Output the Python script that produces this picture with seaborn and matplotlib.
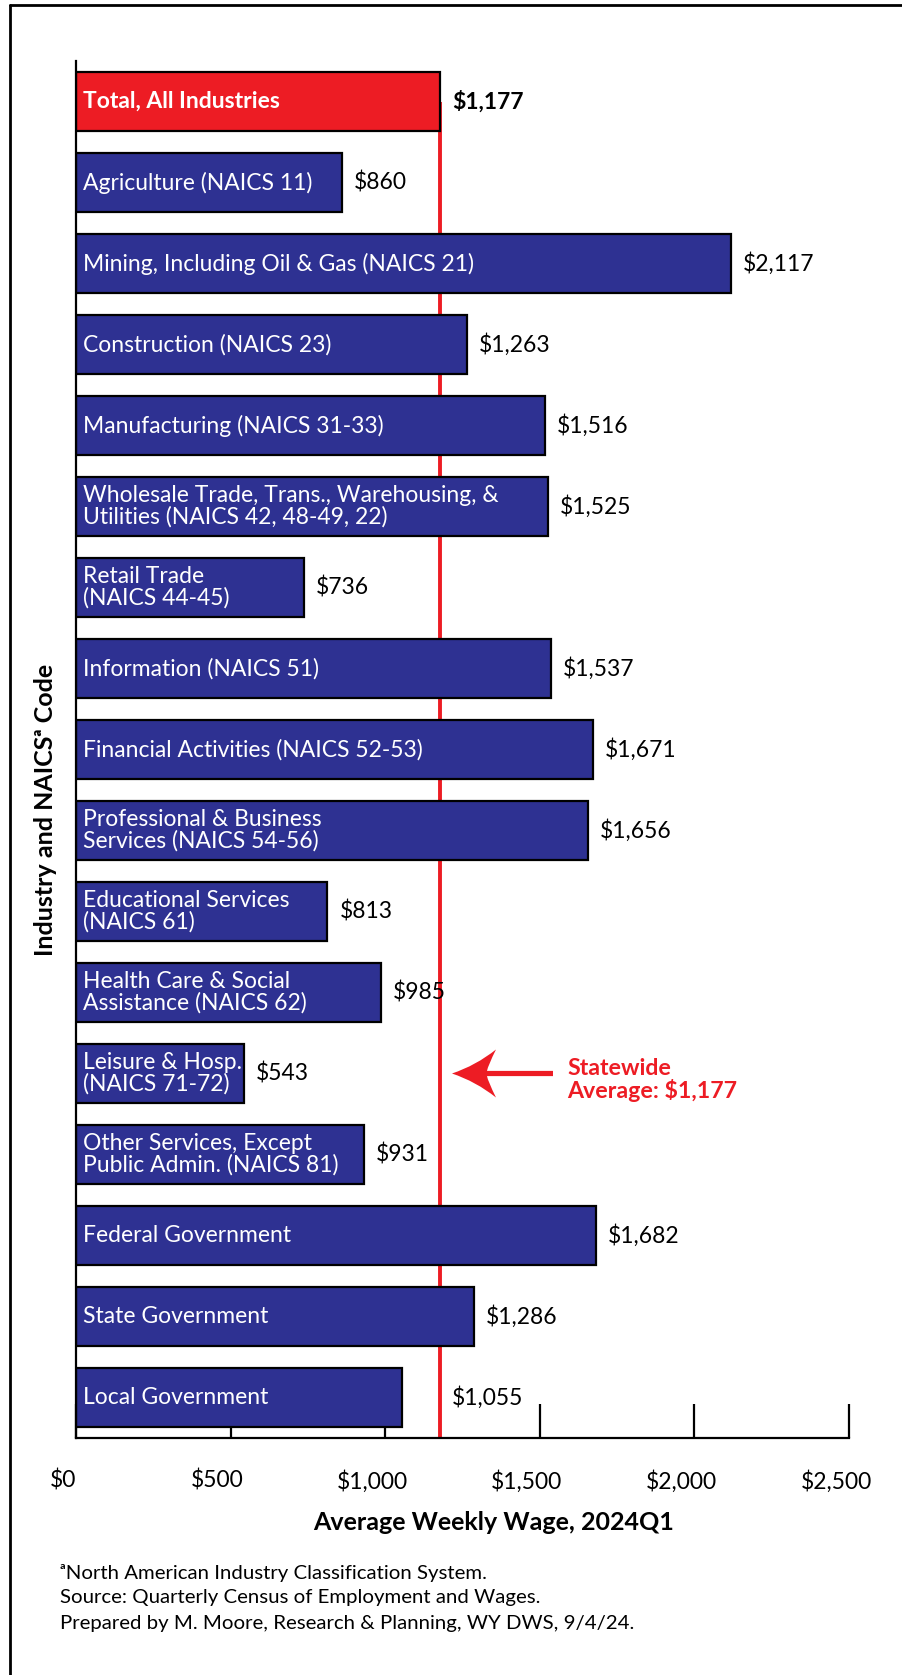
import matplotlib
matplotlib.use("Agg")
import matplotlib.pyplot as plt
import matplotlib.transforms as mtransforms
from matplotlib.lines import Line2D
from matplotlib.path import Path
from matplotlib.patches import PathPatch
import numpy as np
import pandas as pd
import seaborn as sns

# --- data -------------------------------------------------------------
industries = [
    "Total, All Industries",
    "Agriculture (NAICS 11)",
    "Mining, Including Oil & Gas (NAICS 21)",
    "Construction (NAICS 23)",
    "Manufacturing (NAICS 31-33)",
    "Wholesale Trade, Trans., Warehousing, &\nUtilities (NAICS 42, 48-49, 22)",
    "Retail Trade\n(NAICS 44-45)",
    "Information (NAICS 51)",
    "Financial Activities (NAICS 52-53)",
    "Professional & Business\nServices (NAICS 54-56)",
    "Educational Services\n(NAICS 61)",
    "Health Care & Social\nAssistance (NAICS 62)",
    "Leisure & Hosp.\n(NAICS 71-72)",
    "Other Services, Except\nPublic Admin. (NAICS 81)",
    "Federal Government",
    "State Government",
    "Local Government",
]
weekly_wage = [1177, 860, 2117, 1263, 1516, 1525, 736, 1537, 1671, 1656,
               813, 985, 543, 931, 1682, 1286, 1055]
statewide_avg = 1177
x_ticks = [0, 500, 1000, 1500, 2000, 2500]
x_tick_labels = ["$0", "$500", "$1,000", "$1,500", "$2,000", "$2,500"]

RED = "#ED1C24"
NAVY = "#2E3192"

sns.set_theme(style="white")
plt.rcParams["font.family"] = ["Lato", "DejaVu Sans"]

df = pd.DataFrame({"industry": industries, "wage": weekly_wage})
palette = [RED] + [NAVY] * (len(industries) - 1)

W, H = 902, 1675
fig = plt.figure(figsize=(W / 100, H / 100), dpi=100)
ax = fig.add_axes([76 / W, (H - 1438) / H, (849 - 76) / W, (1438 - 61) / H])

sns.barplot(data=df, x="wage", y="industry", hue="industry", palette=palette,
            legend=False, orient="h", width=0.72, edgecolor="black",
            linewidth=1.6, saturation=1, ax=ax)
for p in ax.patches:
    p.set_zorder(2)

n = len(industries)
ax.set_xlim(0, 2500)
ax.set_ylim(n - 0.5, -0.5)

# statewide average line, sitting behind the bars
ax.vlines(statewide_avg, 0, n - 0.5, color=RED, lw=2.8, zorder=1)

# axes styling
ax.set_axisbelow(True)
for side in ["top", "right"]:
    ax.spines[side].set_visible(False)
for side in ["left", "bottom"]:
    ax.spines[side].set_color("black")
    ax.spines[side].set_linewidth(1.6)
ax.set_yticks([])
ax.set_ylabel("")
ax.set_xlabel("")
ax.set_xticks(x_ticks)
ax.set_xticklabels(x_tick_labels)
ax.tick_params(axis="x", direction="in", length=24.5, width=1.6, color="black",
               labelsize=16.5, pad=23, bottom=True, labelcolor="black")
shift = mtransforms.ScaledTranslation(-13 / 100, 0, fig.dpi_scale_trans)
for lbl in ax.get_xticklabels():
    lbl.set_transform(lbl.get_transform() + shift)

# category names inside bars
inside = mtransforms.offset_copy(ax.transData, fig=fig, x=7, y=0, units="dots")
for i, name in enumerate(industries):
    ax.text(0, i, name, transform=inside, ha="left", va="center", color="white",
            fontsize=16.5, fontweight="bold" if i == 0 else "normal",
            linespacing=1.0, zorder=3)

# value labels at the bar ends
outside = mtransforms.offset_copy(ax.transData, fig=fig, x=12, y=0, units="dots")
for i, v in enumerate(weekly_wage):
    xpos = v
    if v < statewide_avg < v + 180:
        xpos = statewide_avg
    ax.text(xpos, i, f"${v:,}", transform=outside, ha="left", va="center",
            color="black", fontsize=16.5,
            fontweight="bold" if i == 0 else "normal", zorder=3)

# annotation arrow pointing at the statewide average line (shape in pixels)
px = 1 / 100.0
arrow_verts = [(0, 0), (24, 8), (44, 24), (36, 8), (35, 2.6), (101, 2.6),
               (101, -2.6), (35, -2.6), (36, -8), (44, -24), (24, -8), (0, 0),
               (0, 0)]
arrow_codes = [Path.MOVETO, Path.CURVE3, Path.CURVE3, Path.CURVE3, Path.CURVE3,
               Path.LINETO, Path.LINETO, Path.LINETO, Path.CURVE3, Path.CURVE3,
               Path.CURVE3, Path.CURVE3, Path.CLOSEPOLY]
arrow_path = Path([(x * px, y * px) for x, y in arrow_verts], arrow_codes)
arrow_tf = fig.dpi_scale_trans + mtransforms.ScaledTranslation(1216, 12, ax.transData)
ax.add_patch(PathPatch(arrow_path, facecolor=RED, edgecolor="none",
                       transform=arrow_tf, zorder=3, clip_on=False))
ax.text(1588, 12.08, f"Statewide\nAverage: ${statewide_avg:,}", ha="left",
        va="center", color=RED, fontsize=16.7, fontweight="bold",
        linespacing=1.0)

# axis titles
fig.text(494 / W, 1 - 1523 / H, "Average Weekly Wage, 2024Q1", ha="center",
         va="center", fontsize=18, fontweight="bold", color="black")
fig.text(46 / W, 1 - 810 / H, "Industry and NAICS\u1d43 Code", ha="center",
         va="center", rotation=90, fontsize=18, fontweight="bold", color="black")

# notes
notes = [
    "\u1d43North American Industry Classification System.",
    "Source: Quarterly Census of Employment and Wages.",
    "Prepared by M. Moore, Research & Planning, WY DWS, 9/4/24.",
]
for k, line in enumerate(notes):
    fig.text(60 / W, 1 - (1573 + 25 * k) / H, line, ha="left", va="center",
             fontsize=14.7, color="black")

# outer frame (top and left edges)
fig.add_artist(Line2D([10 / W, 1], [1 - 5 / H, 1 - 5 / H], color="black",
                      lw=2, transform=fig.transFigure))
fig.add_artist(Line2D([10 / W, 10 / W], [0, 1 - 5 / H], color="black",
                      lw=2, transform=fig.transFigure))

fig.savefig("out.png", dpi=100, facecolor="white")
